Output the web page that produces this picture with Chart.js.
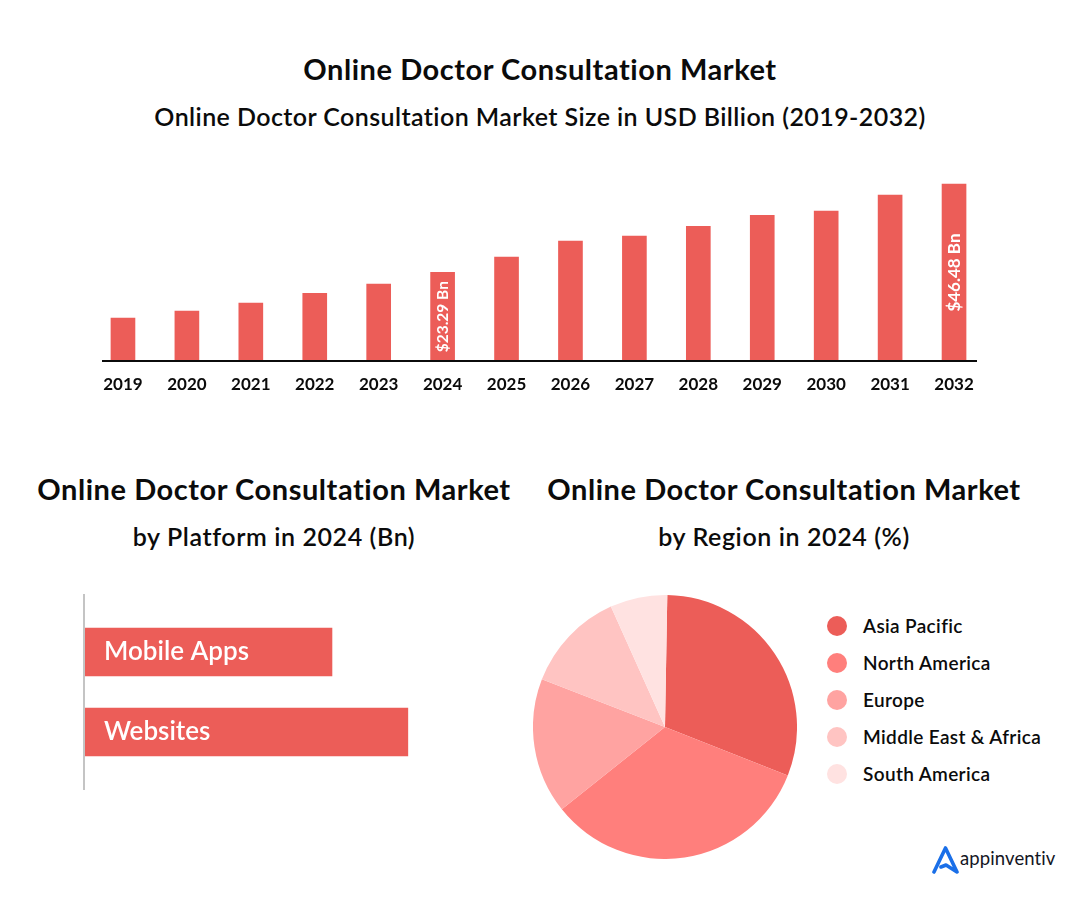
<!DOCTYPE html>
<html>
<head>
<meta charset="utf-8">
<title>Online Doctor Consultation Market</title>
<script src="https://cdn.jsdelivr.net/npm/chart.js@4/dist/chart.umd.min.js"></script>
<style>
  html, body { margin: 0; padding: 0; background: #fff; }
  body { width: 1080px; height: 898px; position: relative; overflow: hidden; font-family: Lato, sans-serif; color: #0b0b0b; }
  .t { position: absolute; transform: translate(-50%, -50%); white-space: nowrap; }
  .h1 { font-size: 29px; font-weight: 700; letter-spacing: 0.55px; }
  .h2 { font-size: 25px; font-weight: 600; letter-spacing: 0.6px; }
  canvas { position: absolute; }
  #legend { position: absolute; left: 827px; top: 607px; }
  .row { height: 37px; display: flex; align-items: center; font-size: 19px; font-weight: 600; letter-spacing: 0.35px; }
  .dot { width: 20px; height: 20px; border-radius: 50%; margin-right: 16px; }
  #logo { position: absolute; left: 932px; top: 846px; }
  #logoText { position: absolute; left: 960px; top: 858px; transform: translateY(-50%); font-size: 18.5px; color: #14161f; letter-spacing: 0.1px; }
</style>
</head>
<body>
<div class="t h1" style="left:540px;top:67.5px">Online Doctor Consultation Market</div>
<div class="t h2" style="left:540px;top:116px;letter-spacing:0.42px">Online Doctor Consultation Market Size in USD Billion (2019-2032)</div>
<div class="t h1" style="left:274px;top:487.5px">Online Doctor Consultation Market</div>
<div class="t h2" style="left:274px;top:536px">by Platform in 2024 (Bn)</div>
<div class="t h1" style="left:784px;top:487.5px">Online Doctor Consultation Market</div>
<div class="t h2" style="left:784px;top:536px">by Region in 2024 (%)</div>

<canvas id="yearChart" style="left:91px;top:170px;width:895px;height:240px"></canvas>
<canvas id="platformChart" style="left:60px;top:594px;width:380px;height:196px"></canvas>
<canvas id="regionChart" style="left:533px;top:595px;width:264px;height:264px"></canvas>
<div id="legend"></div>

<svg id="logo" width="28" height="28" viewBox="0 0 28 28">
  <path d="M2 26 L13.5 2 L25 26 L14 19 L9 21" fill="none" stroke="#1a6fe8" stroke-width="3.6" stroke-linejoin="round" stroke-linecap="round"/>
</svg>
<div id="logoText">appinventiv</div>

<script>
const years = ["2019", "2020", "2021", "2022", "2023", "2024", "2025", "2026", "2027", "2028", "2029", "2030", "2031", "2032"];
const marketSize = [11.3, 13.1, 15.2, 17.8, 20.2, 23.29, 27.3, 31.5, 32.8, 35.4, 38.3, 39.4, 43.6, 46.48];
const marketLabels = ["", "", "", "", "", "$23.29 Bn", "", "", "", "", "", "", "", "$46.48 Bn"];

const platforms = ["Mobile Apps", "Websites"];
const platformSize = [10.1, 13.19];

const regions = ["Asia Pacific", "North America", "Europe", "Middle East & Africa", "South America"];
const regionShare = [30.7, 33.3, 16.6, 12.4, 7.0];
const regionColors = ["#ec5d58", "#ff7f7c", "#ffa3a1", "#ffc4c2", "#ffe2e1"];

const BAR_RED = "#ec5d58";
const FONT = "Lato, sans-serif";

Chart.defaults.animation = false;
Chart.defaults.responsive = false;
Chart.defaults.devicePixelRatio = 1;

function sizeCanvas(id) {
  const c = document.getElementById(id);
  c.width = parseInt(c.style.width);
  c.height = parseInt(c.style.height);
  return c;
}

// axis line is shorter than the plot area, and the two value labels sit rotated inside their bars
const yearExtras = {
  id: "yearExtras",
  afterDraw(chart) {
    const { ctx, chartArea } = chart;
    ctx.save();
    ctx.strokeStyle = "#0b0b0b";
    ctx.lineWidth = 2;
    ctx.beginPath();
    ctx.moveTo(chartArea.left + 11, chartArea.bottom);
    ctx.lineTo(chartArea.right - 9, chartArea.bottom);
    ctx.stroke();

    const bars = chart.getDatasetMeta(0).data;
    ctx.fillStyle = "#fff";
    ctx.textAlign = "center";
    ctx.textBaseline = "middle";
    marketLabels.forEach((txt, i) => {
      if (!txt) return;
      ctx.save();
      ctx.translate(bars[i].x, (bars[i].y + bars[i].base) / 2);
      ctx.rotate(-Math.PI / 2);
      ctx.font = `700 ${i === marketLabels.length - 1 ? 17 : 15.5}px ${FONT}`;
      ctx.fillText(txt, 0, 0);
      ctx.restore();
    });
    ctx.restore();
  },
};

// grey axis runs past the bars at top and bottom, so it spans the canvas and not the chart area
const platformAxis = {
  id: "platformAxis",
  afterDraw(chart) {
    const { ctx, chartArea, height } = chart;
    ctx.save();
    ctx.strokeStyle = "#c4c4c4";
    ctx.lineWidth = 2;
    ctx.beginPath();
    ctx.moveTo(chartArea.left, 0);
    ctx.lineTo(chartArea.left, height);
    ctx.stroke();
    ctx.restore();
  },
};

new Chart(sizeCanvas("yearChart"), {
  type: "bar",
  data: {
    labels: years,
    datasets: [{ data: marketSize, backgroundColor: BAR_RED, barThickness: 24 }],
  },
  options: {
    layout: { padding: 0 },
    plugins: { legend: { display: false }, tooltip: { enabled: false } },
    scales: {
      x: {
        afterFit(scale) { scale.height = 49; },
        border: { display: false },
        grid: { display: false },
        ticks: { color: "#0b0b0b", padding: 5, maxRotation: 0, autoSkip: false, font: { family: FONT, size: 17, weight: "700" } },
      },
      y: { display: false, min: 0, max: 50.2 },
    },
  },
  plugins: [yearExtras],
});

new Chart(sizeCanvas("platformChart"), {
  type: "bar",
  data: {
    labels: platforms,
    datasets: [{ data: platformSize, backgroundColor: BAR_RED, barThickness: 48 }],
  },
  options: {
    indexAxis: "y",
    layout: { padding: { left: 24, right: 0 } },
    plugins: { legend: { display: false }, tooltip: { enabled: false } },
    scales: {
      x: { display: false, min: 0, max: 14.5 },
      y: {
        afterFit(scale) {
          // tick padding would otherwise also eat into the plot height
          scale.width = 0;
          scale.paddingTop = 18;
          scale.paddingBottom = 18;
        },
        border: { display: false },
        grid: { display: false },
        ticks: { mirror: true, z: 1, padding: 20, color: "#fff", font: { family: FONT, size: 26, weight: "600" } },
      },
    },
  },
  plugins: [platformAxis],
});

new Chart(sizeCanvas("regionChart"), {
  type: "pie",
  data: {
    labels: regions,
    datasets: [{ data: regionShare, backgroundColor: regionColors, borderWidth: 0 }],
  },
  options: {
    rotation: 1,
    layout: { padding: 0 },
    plugins: { legend: { display: false }, tooltip: { enabled: false } },
  },
});

const legendBox = document.getElementById("legend");
regions.forEach((name, i) => {
  const row = document.createElement("div");
  row.className = "row";
  const dot = document.createElement("span");
  dot.className = "dot";
  dot.style.background = regionColors[i];
  row.append(dot, name);
  legendBox.append(row);
});
</script>
</body>
</html>
